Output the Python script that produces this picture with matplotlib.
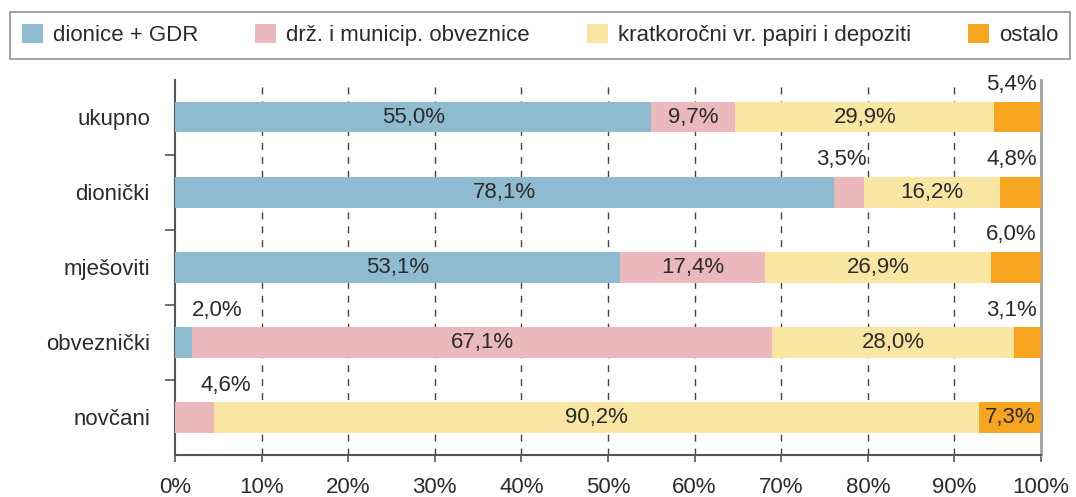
import matplotlib
matplotlib.use('Agg')
import numpy as np
import matplotlib.pyplot as plt

# data (shares in %, as printed on the chart)
categories = ['ukupno', 'dionički', 'mješoviti', 'obveznički', 'novčani']
series_names = ['dionice + GDR', 'drž. i municip. obveznice',
                'kratkoročni vr. papiri i depoziti', 'ostalo']
dionice = [55.0, 78.1, 53.1, 2.0, 0.0]
obveznice = [9.7, 3.5, 17.4, 67.1, 4.6]
kratkorocni = [29.9, 16.2, 26.9, 28.0, 90.2]
ostalo = [5.4, 4.8, 6.0, 3.1, 7.3]
xticks = [0, 10, 20, 30, 40, 50, 60, 70, 80, 90, 100]

colors = ['#8fbbd0', '#ebb9bc', '#fae6a3', '#f7a51e']
text_col = '#2b2b2b'

plt.rcParams['font.family'] = ['Liberation Sans', 'DejaVu Sans']
plt.rcParams['font.size'] = 16

vals = np.array([dionice, obveznice, kratkorocni, ostalo])
shares = vals / vals.sum(axis=0) * 100  # bars are normalised to 100%

fig = plt.figure(figsize=(10.76, 4.97), dpi=100)
ax = fig.add_axes([175 / 1076, 42 / 497, 866 / 1076, 375.5 / 497])

y = np.arange(len(categories))
left = np.zeros(len(categories))
handles = []
for k in range(4):
    h = ax.barh(y, shares[k], left=left, height=0.41, color=colors[k],
                label=series_names[k], zorder=3)
    handles.append(h)
    for i in range(len(categories)):
        v = vals[k, i]
        if v == 0:
            left[i] += shares[k, i]
            continue
        lab = ('%.1f%%' % v).replace('.', ',')
        x0, x1 = left[i], left[i] + shares[k, i]
        if shares[k, i] >= 7:
            ax.text((x0 + x1) / 2, i, lab, ha='center', va='center',
                    color=text_col, zorder=4)
        elif k == 3:
            ax.annotate(lab, (100, i - 0.43), xytext=(-3, 0),
                        textcoords='offset points', ha='right', va='center',
                        color=text_col)
        elif k == 0:
            ax.annotate(lab, (x1, i - 0.43), ha='left', va='center',
                        color=text_col)
        elif i == 4:
            ax.annotate(lab, (x1, i - 0.43), xytext=(-10, 0),
                        textcoords='offset points', ha='left', va='center',
                        color=text_col)
        else:
            ax.annotate(lab, (x1, i - 0.43), xytext=(2, 0),
                        textcoords='offset points', ha='right', va='center',
                        color=text_col)
        left[i] += shares[k, i]

ax.set_xlim(0, 100)
ax.set_ylim(len(categories) - 0.5, -0.5)
ax.set_xticks(xticks)
ax.set_xticklabels(['%d%%' % t for t in xticks])
ax.set_yticks(y)
ax.set_yticklabels(categories)
ax.set_yticks(np.arange(0.5, len(categories) - 1, 1), minor=True)
ax.tick_params(axis='y', which='major', length=0, pad=18, colors=text_col)
ax.tick_params(axis='y', which='minor', length=7, width=1.2, color='#555555')
ax.tick_params(axis='x', length=5, width=1.2, color='#555555', pad=10.5,
               labelcolor=text_col)

for t in xticks[1:-1]:
    ax.axvline(t, color='#444444', lw=1, ls=(0, (5, 5)), zorder=1)

ax.spines['top'].set_visible(False)
ax.spines['right'].set_color('#a0a0a0')
ax.spines['right'].set_linewidth(2)
for s in ['left', 'bottom']:
    ax.spines[s].set_color('#555555')
    ax.spines[s].set_linewidth(1.5)

leg = fig.legend(handles=handles, loc='upper left', ncol=4,
                 bbox_to_anchor=(10 / 1076, 1 - 12 / 497),
                 handlelength=0.95, handleheight=0.95, handletextpad=0.45,
                 columnspacing=2.55, borderpad=0.55, fancybox=False,
                 frameon=True, labelcolor=text_col, borderaxespad=0)
leg.get_frame().set_edgecolor('#777777')
leg.get_frame().set_linewidth(1.2)

fig.savefig('out.png', dpi=100)
